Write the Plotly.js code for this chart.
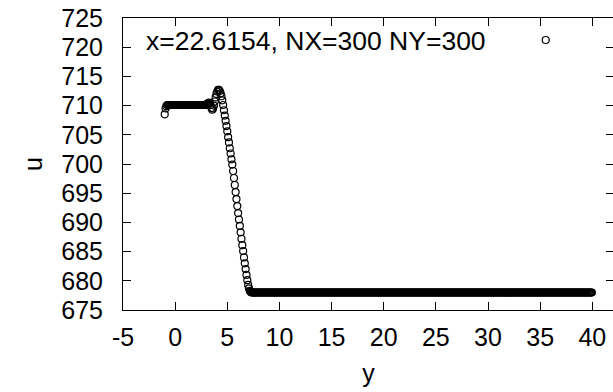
<!DOCTYPE html>
<html>
<head>
<meta charset="utf-8">
<script src="https://cdn.plot.ly/plotly-3.0.1.min.js"></script>
<style>html,body{margin:0;padding:0;overflow:hidden;background:#ffffff;}</style>
</head>
<body>
<div id="chart" style="width:614px;height:392px;"></div>
<script>
// grid of the sampled profile: first y position and spacing
const yStart = -1.0;
const yStep = 0.08;
// u values along y (one per grid point)
const u = [
708.5,709.5,709.9,
710.1,710.1,710.1,710.1,710.1,710.1,710.1,710.1,710.1,710.1,710.1,710.1,710.1,710.1,710.1,710.1,710.1,710.1,710.1,710.1,710.1,710.1,710.1,710.1,710.1,
710.1,710.1,710.1,710.1,710.1,710.1,710.1,710.1,710.1,710.1,710.1,710.1,710.1,710.1,710.1,710.1,710.1,710.1,710.1,710.1,710.1,710.1,
710.2,710.3,710.4,710.5,710.4,710.1,709.6,709.3,709.5,710.0,710.7,711.4,712.0,712.4,712.7,712.7,712.5,712.1,711.6,710.9,
710.1,709.2,708.3,707.4,706.5,705.6,704.6,703.7,702.7,701.8,700.8,699.9,698.8,697.6,696.4,695.2,694.0,692.8,691.6,690.5,
689.4,688.3,687.2,686.1,685.1,684.0,683.0,682.0,681.0,680.1,679.3,678.7,678.3,678.1,
678,678,678,678,678,678,678,678,678,678,678,678,678,678,678,678,678,678,678,678,678,678,678,678,678,
678,678,678,678,678,678,678,678,678,678,678,678,678,678,678,678,678,678,678,678,678,678,678,678,678,
678,678,678,678,678,678,678,678,678,678,678,678,678,678,678,678,678,678,678,678,678,678,678,678,678,
678,678,678,678,678,678,678,678,678,678,678,678,678,678,678,678,678,678,678,678,678,678,678,678,678,
678,678,678,678,678,678,678,678,678,678,678,678,678,678,678,678,678,678,678,678,678,678,678,678,678,
678,678,678,678,678,678,678,678,678,678,678,678,678,678,678,678,678,678,678,678,678,678,678,678,678,
678,678,678,678,678,678,678,678,678,678,678,678,678,678,678,678,678,678,678,678,678,678,678,678,678,
678,678,678,678,678,678,678,678,678,678,678,678,678,678,678,678,678,678,678,678,678,678,678,678,678,
678,678,678,678,678,678,678,678,678,678,678,678,678,678,678,678,678,678,678,678,678,678,678,678,678,
678,678,678,678,678,678,678,678,678,678,678,678,678,678,678,678,678,678,678,678,678,678,678,678,678,
678,678,678,678,678,678,678,678,678,678,678,678,678,678,678,678,678,678,678,678,678,678,678,678,678,
678,678,678,678,678,678,678,678,678,678,678,678,678,678,678,678,678,678,678,678,678,678,678,678,678,
678,678,678,678,678,678,678,678,678,678,678,678,678,678,678,678,678,678,678,678,678,678,678,678,678,
678,678,678,678,678,678,678,678,678,678,678,678,678,678,678,678,678,678,678,678,678,678,678,678,678,
678,678,678,678,678,678,678,678,678,678,678,678,678,678,678,678,678,678,678,678,678,678,678,678,678,
678,678,678,678,678,678,678,678,678,678,678,678,678,678,678,678,678,678,678,678,678,678,678,678,678,
678,678,678,678,678,678,678,678,678
];
const xTicks = [-5, 0, 5, 10, 15, 20, 25, 30, 35, 40];
const yTicks = [675, 680, 685, 690, 695, 700, 705, 710, 715, 720, 725];
const keyText = 'x=22.6154, NX=300 NY=300';
const xTitle = 'y';
const yTitle = 'u';

const FONT = 'Liberation Sans, Arial, Helvetica, sans-serif';

const trace = {
  type: 'scatter',
  mode: 'markers',
  x0: yStart,
  dx: yStep,
  y: u,
  name: keyText,
  marker: {symbol: 'circle-open', size: 7, color: '#000000', line: {width: 1.2, color: '#000000'}},
  hoverinfo: 'skip'
};

const axisCommon = {
  showgrid: false,
  zeroline: false,
  showline: true,
  linecolor: '#000000',
  linewidth: 1,
  mirror: 'ticks',
  ticks: 'inside',
  ticklen: 8,
  tickwidth: 1,
  tickcolor: '#000000',
  tickfont: {family: FONT, size: 25, color: '#000000'}
};

const layout = {
  width: 614,
  height: 392,
  margin: {l: 123, r: 0, t: 18, b: 82, pad: 0},
  paper_bgcolor: '#ffffff',
  plot_bgcolor: '#ffffff',
  showlegend: false,
  font: {family: FONT, size: 25, color: '#000000'},
  xaxis: Object.assign({}, axisCommon, {
    range: [-5, 42.08],
    tickmode: 'array',
    tickvals: xTicks,
    ticktext: xTicks.map(String),
    ticklabelstandoff: 5,
    title: {text: xTitle, font: {family: FONT, size: 25, color: '#000000'}, standoff: 14}
  }),
  yaxis: Object.assign({}, axisCommon, {
    range: [675, 725],
    tickmode: 'array',
    tickvals: yTicks,
    ticktext: yTicks.map(String),
    ticklabelstandoff: 14,
    title: {text: yTitle, font: {family: FONT, size: 25, color: '#000000'}, standoff: 11}
  }),
  annotations: [{
    xref: 'paper', yref: 'paper',
    x: (488 - 123) / 491, y: (310 - 41) / 292,
    xanchor: 'right', yanchor: 'middle',
    text: keyText, showarrow: false,
    font: {family: FONT, size: 26.5, color: '#000000'}
  }],
  shapes: [{
    type: 'circle', xref: 'paper', yref: 'paper',
    xsizemode: 'pixel', ysizemode: 'pixel',
    xanchor: (545.7 - 123) / 491, yanchor: (310 - 40) / 292,
    x0: -3.5, x1: 3.5, y0: -3.5, y1: 3.5,
    line: {color: '#000000', width: 1.2}
  }]
};

Plotly.newPlot('chart', [trace], layout, {displayModeBar: false, staticPlot: true});
</script>
</body>
</html>
